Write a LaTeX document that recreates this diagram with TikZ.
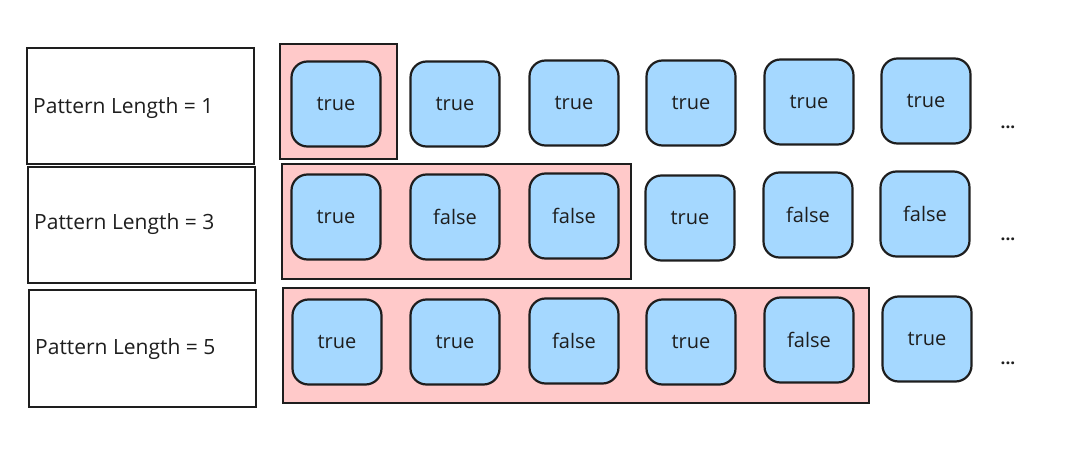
\documentclass[tikz,border=0pt]{standalone}
\usepackage{fontspec}
\setmainfont{Open Sans}
\definecolor{ink}{HTML}{1E1E1E}
\definecolor{pinkfill}{HTML}{FFC9C9}
\definecolor{bluefill}{HTML}{A5D8FF}
\begin{document}
\begin{tikzpicture}[x=1pt,y=-1pt,
  labelbox/.style={draw=ink,line width=2pt,fill=white,minimum width=227pt,minimum height=116pt,inner sep=0pt},
  groupbox/.style={draw=ink,line width=1.8pt,fill=pinkfill},
  cell/.style={draw=ink,line width=2.2pt,fill=bluefill,rounded corners=16pt,minimum width=89pt,minimum height=85pt,inner sep=0pt,font=\fontsize{20}{22}\selectfont,text=ink},
  dots/.style={font=\bfseries\fontsize{17}{18}\selectfont,text=ink},
  lbl/.style={font=\fontsize{21}{24}\selectfont,text=ink,anchor=west,inner sep=0pt}]
\useasboundingbox (0,0) rectangle (1069,457);
% row 1
\node[labelbox] (L1) at (140.5,106.5) {};
\node[lbl] (T1) at (33,108) {Pattern Length = 1};
\draw[groupbox] (280,44) rectangle (397,159);
\node[cell] (a1) at (336,104) {true};
\node[cell] (a2) at (455,104) {true};
\node[cell] (a3) at (574,103) {true};
\node[cell] (a4) at (691,103) {true};
\node[cell] (a5) at (809,102) {true};
\node[cell] (a6) at (926,101) {true};
\node[dots] (d1) at (1008,127) {...};
% row 2
\node[labelbox] (L2) at (141.5,225.5) {};
\node[lbl] (T2) at (34,224) {Pattern Length = 3};
\draw[groupbox] (282,164) rectangle (631,279);
\node[cell] (b1) at (336,217) {true};
\node[cell] (b2) at (455,217) {false};
\node[cell] (b3) at (574,216) {false};
\node[cell] (b4) at (690,218) {true};
\node[cell] (b5) at (808,215) {false};
\node[cell] (b6) at (925,214) {false};
\node[dots] (d2) at (1008,239) {...};
% row 3
\node[labelbox] (L3) at (142.5,348.5) {};
\node[lbl] (T3) at (35,349) {Pattern Length = 5};
\draw[groupbox] (283,288) rectangle (869,403);
\node[cell] (c1) at (337,342) {true};
\node[cell] (c2) at (455,342) {true};
\node[cell] (c3) at (574,341) {false};
\node[cell] (c4) at (691,342) {true};
\node[cell] (c5) at (809,340) {false};
\node[cell] (c6) at (927,339) {true};
\node[dots] (d3) at (1008,363) {...};
\end{tikzpicture}
\end{document}
